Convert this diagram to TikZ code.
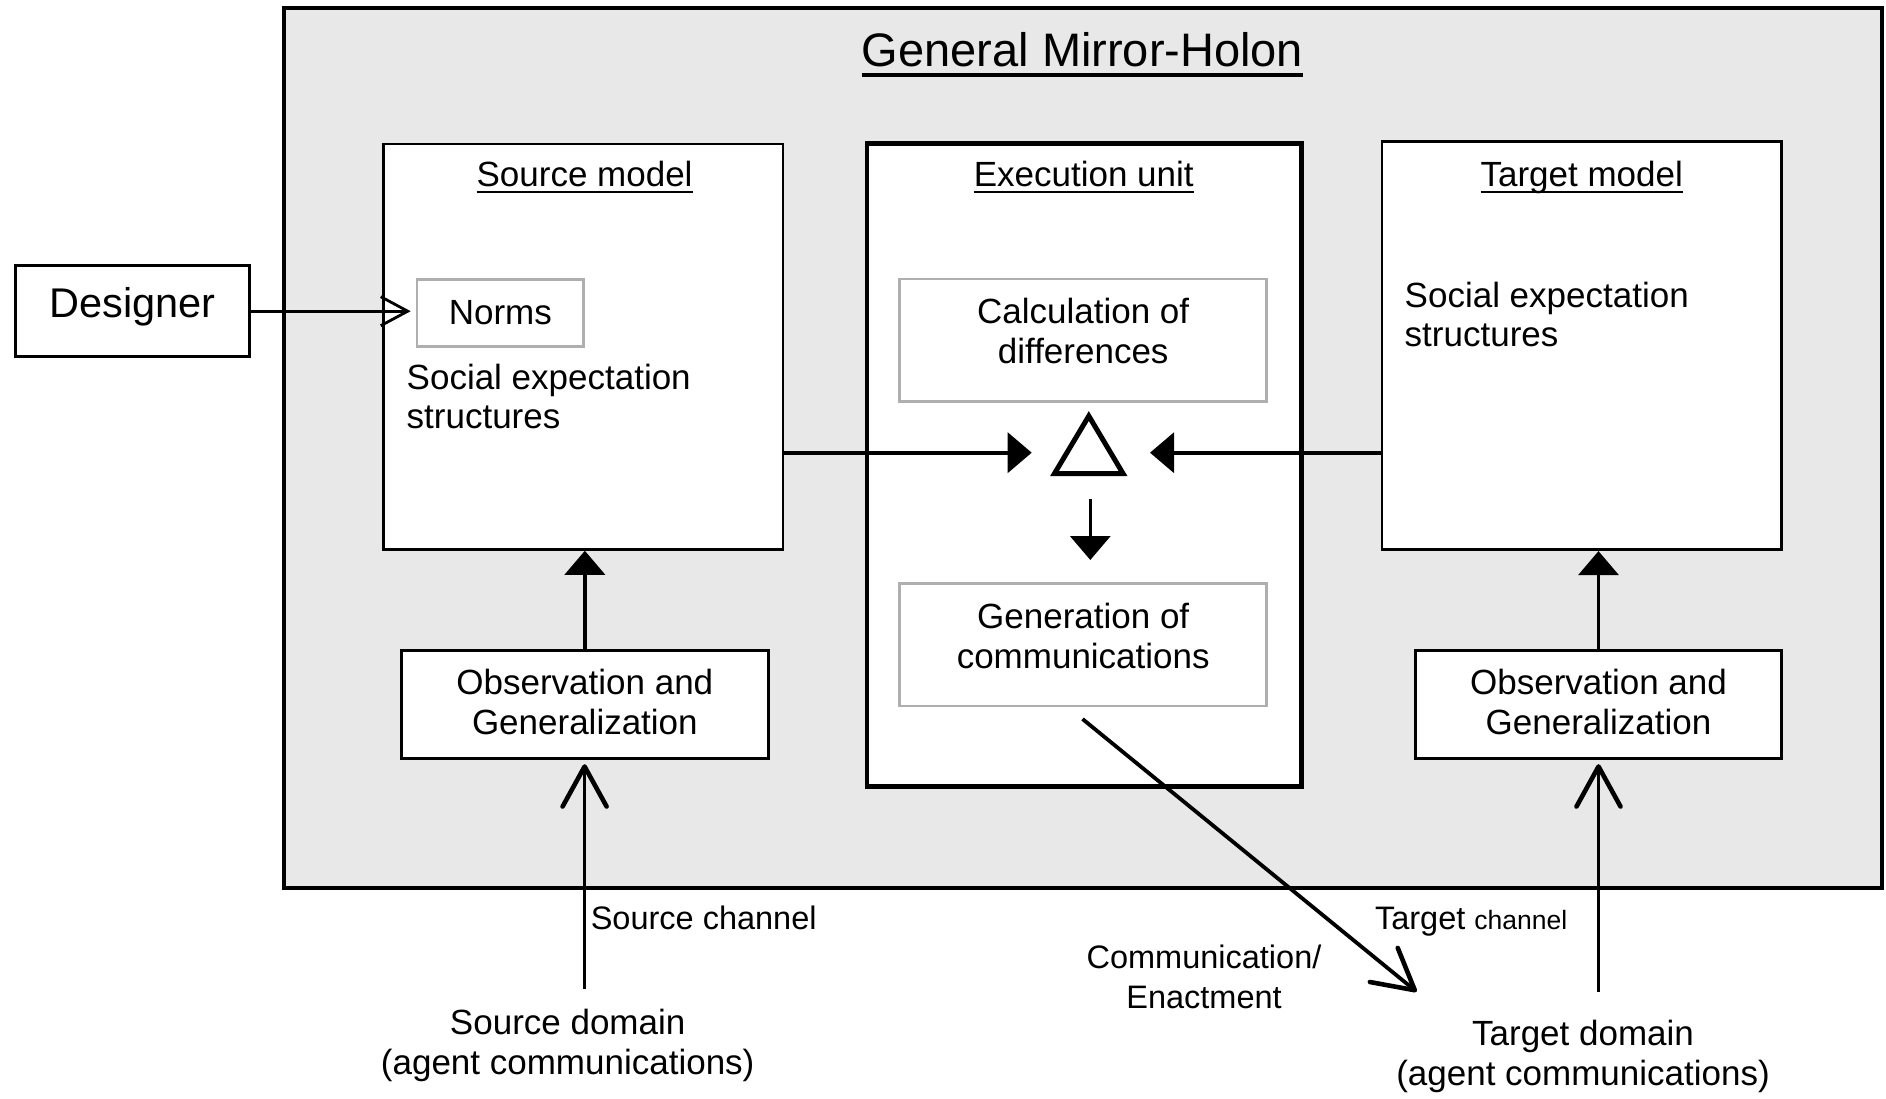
\documentclass[tikz,border=0pt]{standalone}
\usepackage{fontspec}
\setmainfont{Liberation Sans}
\usetikzlibrary{arrows.meta}

\definecolor{holonfill}{RGB}{232,232,232}
\definecolor{softgray}{RGB}{175,175,175}

% text with a rule under it: #1 gap below the baseline, #2 rule thickness
\newcommand{\ulined}[3]{\leavevmode\setbox0=\hbox{#3}%
  \rlap{\vrule height -#1 depth \dimexpr#1+#2\relax width \wd0}\box0}

\tikzset{
  plainbox/.style={draw, line width=3pt, fill=white, inner sep=0pt},
  softbox/.style={draw=softgray, line width=2.6pt, fill=white, inner sep=0pt},
  txt/.style={inner sep=0pt, align=center, font=\fontsize{35}{40}\selectfont},
  setxt/.style={inner sep=0pt, align=left, font=\fontsize{35}{38.5}\selectfont},
  smalltxt/.style={inner sep=0pt, align=left, font=\fontsize{32.5}{39.7}\selectfont},
  headtxt/.style={inner sep=0pt, anchor=base, font=\fontsize{35}{40}\selectfont},
  solidarrow/.style={line width=3.6pt, -{Triangle[length=24pt,width=40pt]}},
  openarrow/.style={line width=3.4pt,
    -{Straight Barb[length=40pt,width=44pt,line width=4.6pt,round]}},
}

\begin{document}
\begin{tikzpicture}[x=1pt,y=-1pt]
\useasboundingbox (0,0) rectangle (1886,1099);

% the holon frame
\node[plainbox, line width=4pt, fill=holonfill,
      minimum width=1598pt, minimum height=879.6pt] (holon) at (1083,448.2) {};
\node[inner sep=0pt, anchor=base, font=\fontsize{47}{56}\selectfont] (title)
  at (1082.5,66.7) {\ulined{6.6pt}{3.3pt}{General Mirror-Holon}};

% the three units
\node[plainbox, line width=2.8pt, minimum width=399.3pt, minimum height=405.3pt] (source) at (583.4,346.7) {};
\node[plainbox, line width=4.5pt, minimum width=434.3pt, minimum height=643.3pt] (exec) at (1084.35,464.95) {};
\node[plainbox, line width=2.8pt, minimum width=399.3pt, minimum height=408pt] (target) at (1581.65,345.7) {};

\node[headtxt] (sourcehead) at (584.6,186.5) {\ulined{4.1pt}{2.8pt}{Source model}};
\node[headtxt] (exechead) at (1083.7,186.5) {\ulined{4.1pt}{2.8pt}{Execution unit}};
\node[headtxt] (targethead) at (1581.7,186.5) {\ulined{4.1pt}{2.8pt}{Target model}};

% source model contents
\node[softbox, minimum width=166.6pt, minimum height=67.4pt] (norms) at (500.3,313) {};
\node[headtxt] (normstext) at (500.3,324) {Norms};
\node[setxt, anchor=west] (sourcese) at (406.5,396.4) {Social expectation\\structures};

% target model contents
\node[setxt, anchor=west] (targetse) at (1404.5,314.6) {Social expectation\\structures};

% execution unit contents
\node[softbox, minimum width=366.9pt, minimum height=122.7pt] (calc) at (1083.15,340.35) {};
\node[txt] (calctext) at (1083.2,331.1) {Calculation of\\differences};
\node[softbox, minimum width=366.9pt, minimum height=122.6pt] (gen) at (1083.15,644.7) {};
\node[txt] (gentext) at (1083.2,635.5) {Generation of\\communications};

\draw[line width=5pt, line join=miter] (1088.8,416) -- (1123,473.5) -- (1054.5,473.5) -- cycle;
\coordinate (dleft) at (1031.7,452.7);
\coordinate (dright) at (1150,452.7);
\coordinate (dtop) at (1090.3,499.3);
\coordinate (dbot) at (1090.3,560);

% observation units
\node[plainbox, minimum width=367.7pt, minimum height=108.7pt] (obsS) at (584.85,704.35) {};
\node[txt] (obsStext) at (584.85,701.9) {Observation and\\Generalization};
\node[plainbox, minimum width=365.6pt, minimum height=108.7pt] (obsT) at (1598.5,704.35) {};
\node[txt] (obsTtext) at (1598.5,701.9) {Observation and\\Generalization};

% designer
\node[plainbox, minimum width=234.2pt, minimum height=91pt] (designer) at (132.4,311.2) {};
\node[inner sep=0pt, anchor=base, font=\fontsize{41.5}{48}\selectfont] (designertext) at (132.4,317) {Designer};

% outside labels
\node[txt] (srcdomain) at (567.7,1045.1) {Source domain\\(agent communications)};
\node[txt] (tgtdomain) at (1583,1056.5) {Target domain\\(agent communications)};
\node[smalltxt, anchor=base west] (srcchannel) at (590.6,929.3) {Source channel};
\node[smalltxt, anchor=base west] (tgtchannel) at (1374.8,929.5)
  {Target {\fontsize{26.5}{32}\selectfont channel}};
\node[smalltxt, align=center] (enact) at (1204,977) {Communication/\\Enactment};

\coordinate (srcfoot) at (584.6,988.7);
\coordinate (tgtfoot) at (1598.5,992.3);
\coordinate (genfoot) at (1082.5,719);
\coordinate (enacttip) at (1416.6,991.7);

% connectors
\draw[line width=2.6pt, -{Straight Barb[length=27pt,width=29pt,line width=2.8pt]}, shorten >=5pt]
  (designer.east) -- (designer.east -| norms.west);
\draw[solidarrow] (source.east |- dleft) -- (dleft);
\draw[solidarrow] (target.west |- dright) -- (dright);
\draw[solidarrow] (dtop) -- (dbot);
\draw[solidarrow] (obsS.north) -- (obsS.north |- source.south);
\draw[solidarrow] (obsT.north) -- (obsT.north |- target.south);
\draw[openarrow, shorten >=4pt] (srcfoot) -- (srcfoot |- obsS.south);
\draw[openarrow, shorten >=4pt] (tgtfoot) -- (tgtfoot |- obsT.south);
\draw[openarrow, line width=3.8pt] (genfoot) -- (enacttip);
\end{tikzpicture}
\end{document}
